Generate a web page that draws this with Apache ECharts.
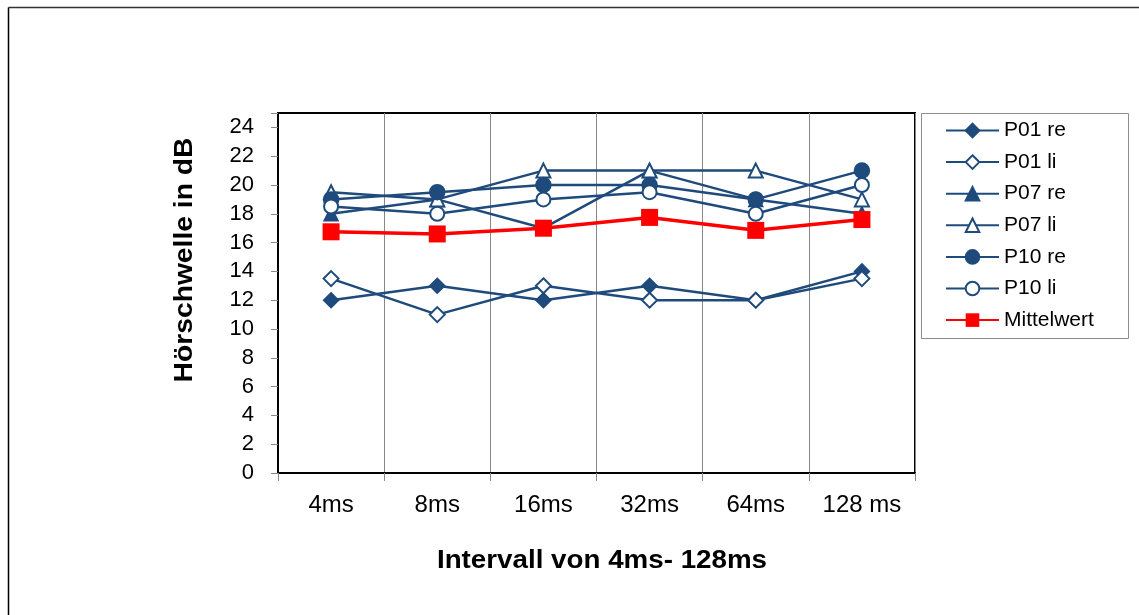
<!DOCTYPE html>
<html>
<head>
<meta charset="utf-8">
<script src="https://cdn.jsdelivr.net/npm/echarts@6/dist/echarts.min.js"></script>
<style>
html,body{margin:0;padding:0;background:#fff;}
#c{width:1139px;height:615px;}
</style>
</head>
<body>
<div id="c"></div>
<script>
var categories = ['4ms', '8ms', '16ms', '32ms', '64ms', '128 ms'];
var p01re = [12, 13, 12, 13, 12, 14];
var p01li = [13.5, 11, 13, 12, 12, 13.5];
var p07re = [18, 19, 17, 21, 19, 18];
var p07li = [19.5, 19, 21, 21, 21, 19];
var p10re = [19, 19.5, 20, 20, 19, 21];
var p10li = [18.5, 18, 19, 19.5, 18, 20];
var mittelwert = [16.75, 16.6, 17, 17.75, 16.85, 17.6];
var yTicks = [0, 2, 4, 6, 8, 10, 12, 14, 16, 18, 20, 22, 24];

var BLUE = '#1f4a7c';
var FONT = 'Liberation Sans, Arial, sans-serif';

function blueSeries(name, data, symbol, size) {
  return {
    name: name, type: 'line', data: data,
    symbol: symbol, symbolSize: size,
    lineStyle: {color: BLUE, width: 2.5},
    itemStyle: {color: BLUE, borderColor: BLUE, borderWidth: 1.5},
    emphasis: {disabled: true},
    animation: false
  };
}

var chart = echarts.init(document.getElementById('c'));
chart.setOption({
  backgroundColor: '#fff',
  animation: false,
  grid: {left: 278, top: 113, width: 637, height: 360, show: true, borderColor: '#000', borderWidth: 2, backgroundColor: 'transparent'},
  legend: {
    orient: 'vertical', left: 945, top: 120, padding: 0,
    itemWidth: 53, itemHeight: 17, itemGap: 10.6,
    textStyle: {fontFamily: FONT, fontSize: 21, color: '#000', lineHeight: 21, padding: [0,0,0,0]},
    data: ['P01 re', 'P01 li', 'P07 re', 'P07 li', 'P10 re', 'P10 li', 'Mittelwert']
  },
  xAxis: {
    type: 'category', data: categories, boundaryGap: true,
    axisLine: {lineStyle: {color: '#000', width: 2}},
    axisTick: {show: true, length: 8, lineStyle: {color: '#888', width: 1}},
    splitLine: {show: true, lineStyle: {color: '#888', width: 1}},
    axisLabel: {fontFamily: FONT, fontSize: 24, color: '#000', margin: 20}
  },
  yAxis: {
    type: 'value', min: 0, max: 25, interval: 2,
    axisLine: {show: true, lineStyle: {color: '#000', width: 2}},
    axisTick: {show: true, length: 7, lineStyle: {color: '#888', width: 1}},
    splitLine: {show: false},
    axisLabel: {fontFamily: FONT, fontSize: 22, color: '#000', margin: 24,
      formatter: function (v) { return yTicks.indexOf(v) >= 0 ? String(v) : ''; }}
  },
  graphic: [
    {type: 'line', shape: {x1: 8.5, y1: 7.5, x2: 1139, y2: 7.5}, style: {stroke: '#333', lineWidth: 1.5}},
    {type: 'line', shape: {x1: 8.5, y1: 7.5, x2: 8.5, y2: 615}, style: {stroke: '#000', lineWidth: 1.5}},
    {type: 'rect', shape: {x: 921.5, y: 113.5, width: 207, height: 225}, style: {fill: 'none', stroke: '#8c8c8c', lineWidth: 1}},
    {type: 'text', x: 185, y: 260, rotation: Math.PI / 2, scaleX: 1.13,
      style: {text: 'Hörschwelle in dB', font: 'bold 25px ' + FONT, fill: '#000', textAlign: 'center', textVerticalAlign: 'middle'}},
    {type: 'text', x: 602, y: 561, scaleX: 1.11,
      style: {text: 'Intervall von 4ms- 128ms', font: 'bold 25px ' + FONT, fill: '#000', textAlign: 'center', textVerticalAlign: 'middle'}}
  ],
  series: [
    blueSeries('P01 re', p01re, 'diamond', 15),
    blueSeries('P01 li', p01li, 'emptyDiamond', 15),
    blueSeries('P07 re', p07re, 'triangle', 14),
    blueSeries('P07 li', p07li, 'emptyTriangle', 14),
    blueSeries('P10 re', p10re, 'circle', 15),
    blueSeries('P10 li', p10li, 'emptyCircle', 14),
    {
      name: 'Mittelwert', type: 'line', data: mittelwert,
      symbol: 'rect', symbolSize: 17,
      lineStyle: {color: '#ff0000', width: 3.5},
      itemStyle: {color: '#ff0000'},
      emphasis: {disabled: true}, z: 3
    }
  ]
});
</script>
</body>
</html>
